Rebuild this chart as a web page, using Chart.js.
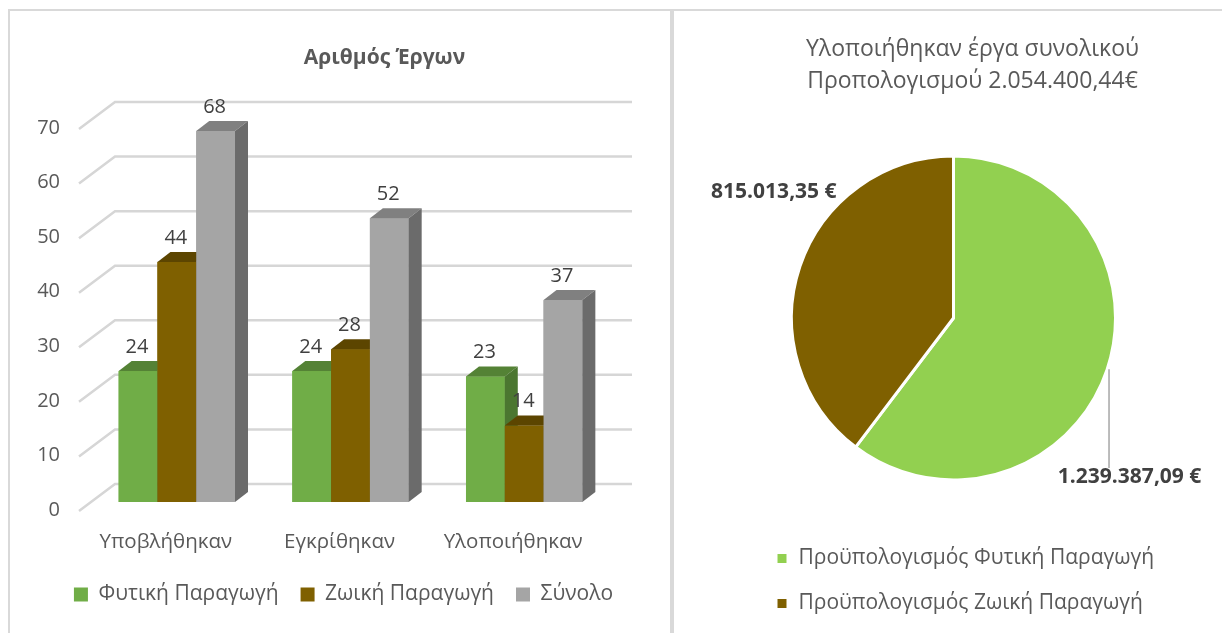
<!DOCTYPE html>
<html>
<head>
<meta charset="utf-8">
<script src="https://cdn.jsdelivr.net/npm/chart.js@4.4.1/dist/chart.umd.min.js"></script>
<style>
    html, body { margin: 0; padding: 0; background: #fff; width: 1222px; height: 633px; overflow: hidden; }
    #left { position: absolute; left: 0; top: 0; width: 670px; height: 633px; }
    #right { position: absolute; left: 674px; top: 0; width: 548px; height: 633px; }
    .frame { position: absolute; background: #d9d9d9; }
</style>
</head>
<body>
<div id="left"><canvas id="barChart"></canvas></div>
<div id="right"><canvas id="pieChart"></canvas></div>
<div class="frame" style="left:8px;top:9px;width:1214px;height:2px"></div>
<div class="frame" style="left:8px;top:9px;width:2px;height:624px"></div>
<div class="frame" style="left:670px;top:9px;width:4px;height:624px"></div>
<script>
// Bar chart data
const categories = ['Υποβλήθηκαν', 'Εγκρίθηκαν', 'Υλοποιήθηκαν'];
const seriesNames = ['Φυτική Παραγωγή', 'Ζωική Παραγωγή', 'Σύνολο'];
const plantProjects = [24, 24, 23];
const livestockProjects = [44, 28, 14];
const totalProjects = [68, 52, 37];
const yTicks = [0, 10, 20, 30, 40, 50, 60, 70];

// Pie chart data
const budgetLabels = ['Προϋπολογισμός Φυτική Παραγωγή', 'Προϋπολογισμός Ζωική Παραγωγή'];
const budgetValues = [1239387.09, 815013.35];

const barColors = [
    { front: '#70AD47', top: '#548235', side: '#4B7630' },
    { front: '#7F6000', top: '#5C4500', side: '#553F00' },
    { front: '#A5A5A5', top: '#808080', side: '#6B6B6B' }
];
const pieColors = ['#92D050', '#7F6000'];

Chart.defaults.font.family = "'Open Sans', sans-serif";
Chart.defaults.color = '#595959';

// 1.239.387,09
const formatEuro = (v) => {
    const [int, dec] = v.toFixed(2).split('.');
    return int.replace(/\B(?=(\d{3})+(?!\d))/g, '.') + ',' + dec;
};

// move title / legend sideways (Excel does not center them on the plot)
const shiftBlocks = {
    id: 'shiftBlocks',
    afterLayout(chart, args, opts) {
        if (chart.titleBlock && opts.title) {
            chart.titleBlock.left += opts.title;
            chart.titleBlock.right += opts.title;
        }
        if (chart.legend && opts.legend) {
            chart.legend.left += opts.legend;
            chart.legend.right += opts.legend;
        }
    }
};

// fake 3D: back wall gridlines, bar tops and sides, value labels
const bar3d = {
    id: 'bar3d',
    beforeDatasetsDraw(chart, args, opts) {
        const { ctx, chartArea, scales: { y } } = chart;
        ctx.save();
        ctx.strokeStyle = '#d6d6d6';
        ctx.lineWidth = 2.5;
        yTicks.forEach(v => {
            const py = y.getPixelForValue(v);
            ctx.beginPath();
            ctx.moveTo(chartArea.left + opts.floorX, py + opts.floorY);
            ctx.lineTo(chartArea.left + opts.wallX, py + opts.wallY);
            ctx.lineTo(chartArea.right + opts.wallXRight, py + opts.wallY);
            ctx.stroke();
        });
        ctx.restore();
    },
    afterDatasetsDraw(chart, args, opts) {
        const { ctx } = chart;
        const dx = opts.depthX, dy = opts.depthY;
        ctx.save();
        chart.data.datasets.forEach((ds, di) => {
            const meta = chart.getDatasetMeta(di);
            const c = barColors[di];
            meta.data.forEach(bar => {
                const { x, y, base, width } = bar.getProps(['x', 'y', 'base', 'width'], true);
                const l = x - width / 2, r = x + width / 2;
                ctx.fillStyle = c.front;
                ctx.fillRect(l, y, width, base - y);
                ctx.fillStyle = c.top;
                ctx.beginPath();
                ctx.moveTo(l, y); ctx.lineTo(r, y); ctx.lineTo(r + dx, y + dy); ctx.lineTo(l + dx, y + dy);
                ctx.closePath(); ctx.fill();
                ctx.fillStyle = c.side;
                ctx.beginPath();
                ctx.moveTo(r, y); ctx.lineTo(r + dx, y + dy); ctx.lineTo(r + dx, base + dy); ctx.lineTo(r, base);
                ctx.closePath(); ctx.fill();
            });
        });
        ctx.font = "20px 'Open Sans'";
        ctx.fillStyle = '#404040';
        ctx.textAlign = 'center';
        ctx.textBaseline = 'middle';
        chart.data.datasets.forEach((ds, di) => {
            chart.getDatasetMeta(di).data.forEach((bar, i) => {
                const { x, y } = bar.getProps(['x', 'y'], true);
                ctx.fillText(String(ds.data[i]), x + opts.labelDX, y + opts.labelDY);
            });
        });
        ctx.restore();
    }
};

const pieLabels = {
    id: 'pieLabels',
    afterDatasetsDraw(chart, args, opts) {
        const { ctx } = chart;
        const meta = chart.getDatasetMeta(0);
        ctx.save();
        meta.data.forEach((arc, i) => {
            const { x, y, outerRadius } = arc.getProps(['x', 'y', 'outerRadius'], true);
            const p = opts.positions[i];
            const lx = x + p.x * outerRadius;
            const ly = y + p.y * outerRadius;
            if (p.leader) {
                const ox = p.leader * outerRadius;
                const oy = Math.sqrt(outerRadius * outerRadius - ox * ox);
                ctx.strokeStyle = '#a6a6a6';
                ctx.lineWidth = 1.5;
                ctx.beginPath();
                ctx.moveTo(x + ox, y + oy + 6);
                ctx.lineTo(x + ox, ly - 9);
                ctx.stroke();
            }
            ctx.font = "bold 21px 'Open Sans'";
            ctx.fillStyle = '#404040';
            ctx.textAlign = 'center';
            ctx.textBaseline = 'middle';
            ctx.fillText(formatEuro(budgetValues[i]) + ' €', lx, ly);
        });
        ctx.restore();
    }
};

const seriesData = [plantProjects, livestockProjects, totalProjects];

new Chart(document.getElementById('barChart'), {
    type: 'bar',
    data: {
        labels: categories,
        datasets: seriesNames.map((name, i) => ({
            label: name,
            data: seriesData[i],
            backgroundColor: barColors[i].front,
            borderWidth: 0,
            categoryPercentage: 0.67,
            barPercentage: 1
        }))
    },
    options: {
        responsive: true,
        maintainAspectRatio: false,
        animation: false,
        events: [],
        layout: { padding: { left: 0, right: 59, top: 0, bottom: 18 } },
        scales: {
            x: {
                grid: { display: false, drawTicks: false },
                border: { display: false },
                ticks: { color: '#595959', font: { size: 20.5 }, padding: 28, labelOffset: -11 },
                afterFit: (s) => { s.height = 60; }
            },
            y: {
                min: 0,
                max: 70,
                grid: { display: false, drawTicks: false },
                border: { display: false },
                ticks: { color: '#595959', font: { size: 20 }, padding: 30, labelOffset: 8 },
                afterBuildTicks: (s) => { s.ticks = yTicks.map(v => ({ value: v })); },
                afterFit: (s) => { s.width = 90; }
            }
        },
        plugins: {
            title: {
                display: true,
                text: 'Αριθμός Έργων',
                color: '#595959',
                font: { size: 21, weight: 'bold', lineHeight: 1.2 },
                padding: { top: 45, bottom: 49.8 }
            },
            legend: {
                position: 'bottom',
                labels: { boxWidth: 14, boxHeight: 14, padding: 22, color: '#595959', font: { size: 21 } }
            },
            tooltip: { enabled: false },
            shiftBlocks: { title: 79, legend: 38 },
            bar3d: {
                depthX: 13, depthY: -10,
                floorX: -11, floorY: 9,
                wallX: 25, wallY: -18, wallXRight: 21,
                labelDX: -1, labelDY: -24
            }
        }
    },
    plugins: [shiftBlocks, bar3d]
});

const budgetTotal = budgetValues.reduce((a, b) => a + b, 0);

new Chart(document.getElementById('pieChart'), {
    type: 'pie',
    data: {
        labels: budgetLabels,
        datasets: [{
            data: budgetValues,
            backgroundColor: pieColors,
            borderColor: '#ffffff',
            borderWidth: 3,
            radius: 162
        }]
    },
    options: {
        responsive: true,
        maintainAspectRatio: false,
        animation: false,
        events: [],
        layout: { padding: { left: 11, right: 0, top: 0, bottom: 9 } },
        plugins: {
            title: {
                display: true,
                text: ['Υλοποιήθηκαν έργα συνολικού', 'Προπολογισμού ' + formatEuro(budgetTotal) + '€'],
                color: '#595959',
                font: { size: 23, weight: 'normal', lineHeight: 1.39 },
                padding: { top: 33, bottom: 15 }
            },
            legend: {
                position: 'bottom',
                align: 'start',
                labels: { boxWidth: 12, boxHeight: 12, padding: 24, color: '#595959', font: { size: 21 } }
            },
            tooltip: { enabled: false },
            shiftBlocks: { title: 19, legend: 67 },
            pieLabels: {
                positions: [
                    { x: 1.087, y: 0.981, leader: 0.96 },
                    { x: -1.109, y: -0.776 }
                ]
            }
        }
    },
    plugins: [shiftBlocks, pieLabels]
});
</script>
</body>
</html>
